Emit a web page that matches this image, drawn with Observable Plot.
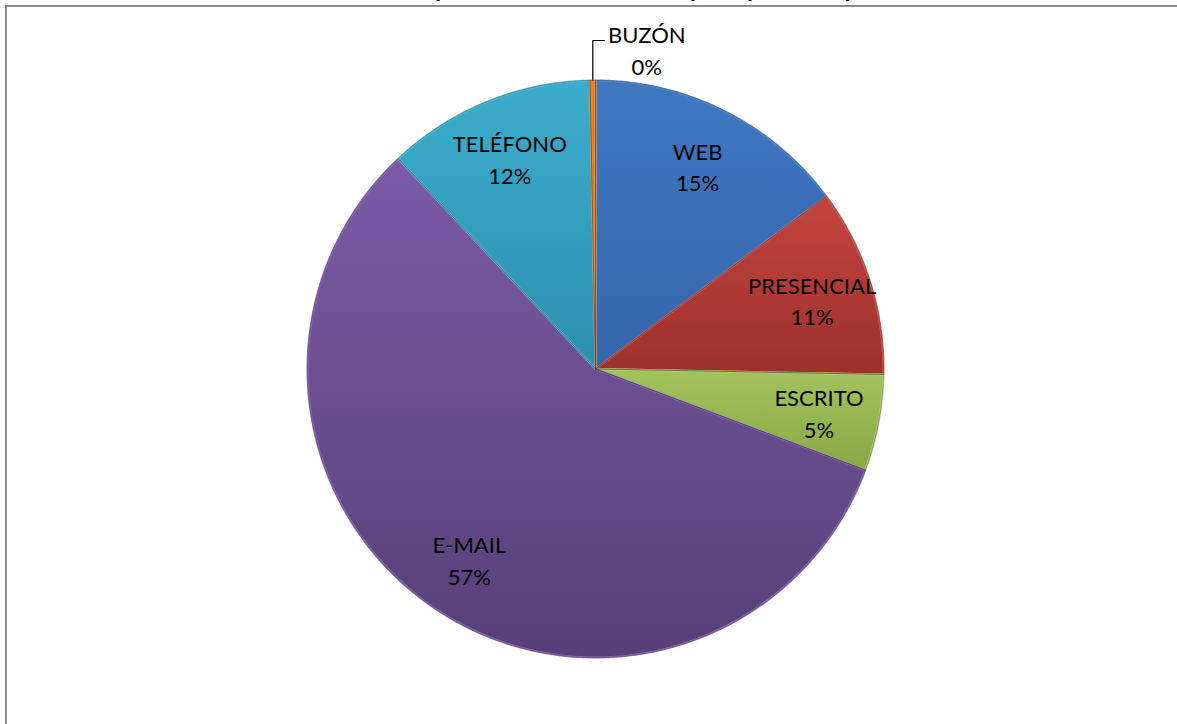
<!DOCTYPE html>
<html><head><meta charset="utf-8">
<script src="https://cdn.jsdelivr.net/npm/d3@7"></script>
<script src="https://cdn.jsdelivr.net/npm/@observablehq/plot@0.6"></script>
<style>
html,body{margin:0;padding:0;background:#fff;overflow:hidden;width:1177px;height:724px;}
#title{position:absolute;left:0;top:-24px;width:1177px;text-align:center;font:bold 24px Lato;line-height:24px;white-space:nowrap;color:#000;}
#frame{position:absolute;left:5px;top:5px;width:1300px;height:800px;border-left:2px solid #8c8c8c;border-top:2px solid #8c8c8c;background:#fff;}
#chart{position:absolute;left:0;top:0;}
</style></head><body>
<div id="title">Gráfica nº 7: Respuestas de Información por tipo de respuesta</div>
<div id="frame"></div>
<div id="chart"></div>
<script>
// Data (clockwise from 12 o'clock)
const categorias = ["WEB", "PRESENCIAL", "ESCRITO", "E-MAIL", "TELÉFONO", "BUZÓN"];
const valores = [14.8, 10.5, 5.4, 57.3, 11.7, 0.3];
// Styling
const coloresArriba = ["#3f78c2", "#c4453f", "#a3c35e", "#7b5ba6", "#3badcc", "#f07d1a"];
const coloresAbajo  = ["#3566ac", "#9c302c", "#88a845", "#574079", "#2e8fae", "#e0680a"];
const coloresBorde  = ["#5a8fd6", "#d8625c", "#bcd97a", "#9170bd", "#5cc3dd", "#f59a4a"];

const total = d3.sum(valores);
let acc = 0;
const slices = categorias.map((c, i) => {
  const a0 = acc / total * 2 * Math.PI;
  acc += valores[i];
  const a1 = acc / total * 2 * Math.PI;
  return {cat: c, value: valores[i], a0, a1, i};
});

const poly = [];
for (const s of slices) {
  poly.push({cat: s.cat, i: s.i, x: 0, y: 0});
  const n = Math.max(2, Math.ceil((s.a1 - s.a0) / (Math.PI / 360)));
  for (let k = 0; k <= n; k++) {
    const a = s.a0 + (s.a1 - s.a0) * k / n;
    poly.push({cat: s.cat, i: s.i, x: Math.sin(a), y: -Math.cos(a)});
  }
  poly.push({cat: s.cat, i: s.i, x: 0, y: 0});
}

const pct = v => Math.round(v) + "%";
const rLab = 0.79;
const inside = slices.filter(s => s.value >= 1).map(s => {
  const m = (s.a0 + s.a1) / 2;
  return {x: rLab * Math.sin(m), y: -rLab * Math.cos(m), text: s.cat + "\n" + pct(s.value)};
});
// small slices: label outside with leader
const ux = 1 / 288, uy = 1 / 288.5;
const small = slices.filter(s => s.value < 1);
const leaders = [];
const outside = [];
small.forEach(s => {
  const m = (s.a0 + s.a1) / 2;
  const x0 = Math.sin(m), y0 = -Math.cos(m);
  const yk = y0 - 40 * uy;
  leaders.push({k: s.cat, x: x0, y: y0}, {k: s.cat, x: x0, y: yk}, {k: s.cat, x: x0 + 12 * ux, y: yk});
  outside.push({x: x0 + 54 * ux, y: yk + 8 * uy, text: s.cat + "\n" + pct(s.value)});
});

const plot = Plot.plot({
  width: 1177,
  height: 724,
  margin: 0,
  x: {domain: [-1, 1], range: [307, 883], axis: null},
  y: {domain: [-1, 1], range: [80, 657], axis: null},
  color: {type: "identity"},
  style: {background: "transparent", overflow: "visible", fontFamily: "Lato"},
  marks: [
    Plot.line(poly, {x: "x", y: "y", z: "cat", fill: d => `url(#g${d.i})`, stroke: d => coloresBorde[d.i], strokeWidth: 2, curve: "linear"}),
    Plot.line(poly, {x: "x", y: "y", z: "cat", stroke: "#333", strokeWidth: 0.7, strokeOpacity: 0.55, curve: "linear"}),
    Plot.line(leaders, {x: "x", y: "y", z: "k", stroke: "#000", strokeWidth: 1.2, strokeLinecap: "butt", strokeLinejoin: "miter"}),
    Plot.text(inside, {x: "x", y: "y", text: "text", fontSize: 22, lineHeight: 1.45, fill: "#000"}),
    Plot.text(outside, {x: "x", y: "y", text: "text", fontSize: 22, lineHeight: 1.45, fill: "#000"})
  ]
});

const svg = d3.select(plot);
const defs = svg.insert("defs", ":first-child");
categorias.forEach((c, i) => {
  const g = defs.append("linearGradient").attr("id", "g" + i)
    .attr("x1", 0).attr("y1", 0).attr("x2", 0).attr("y2", 1);
  g.append("stop").attr("offset", "0%").attr("stop-color", coloresArriba[i]);
  g.append("stop").attr("offset", "100%").attr("stop-color", coloresAbajo[i]);
});
document.getElementById("chart").appendChild(plot);
</script>
</body></html>
